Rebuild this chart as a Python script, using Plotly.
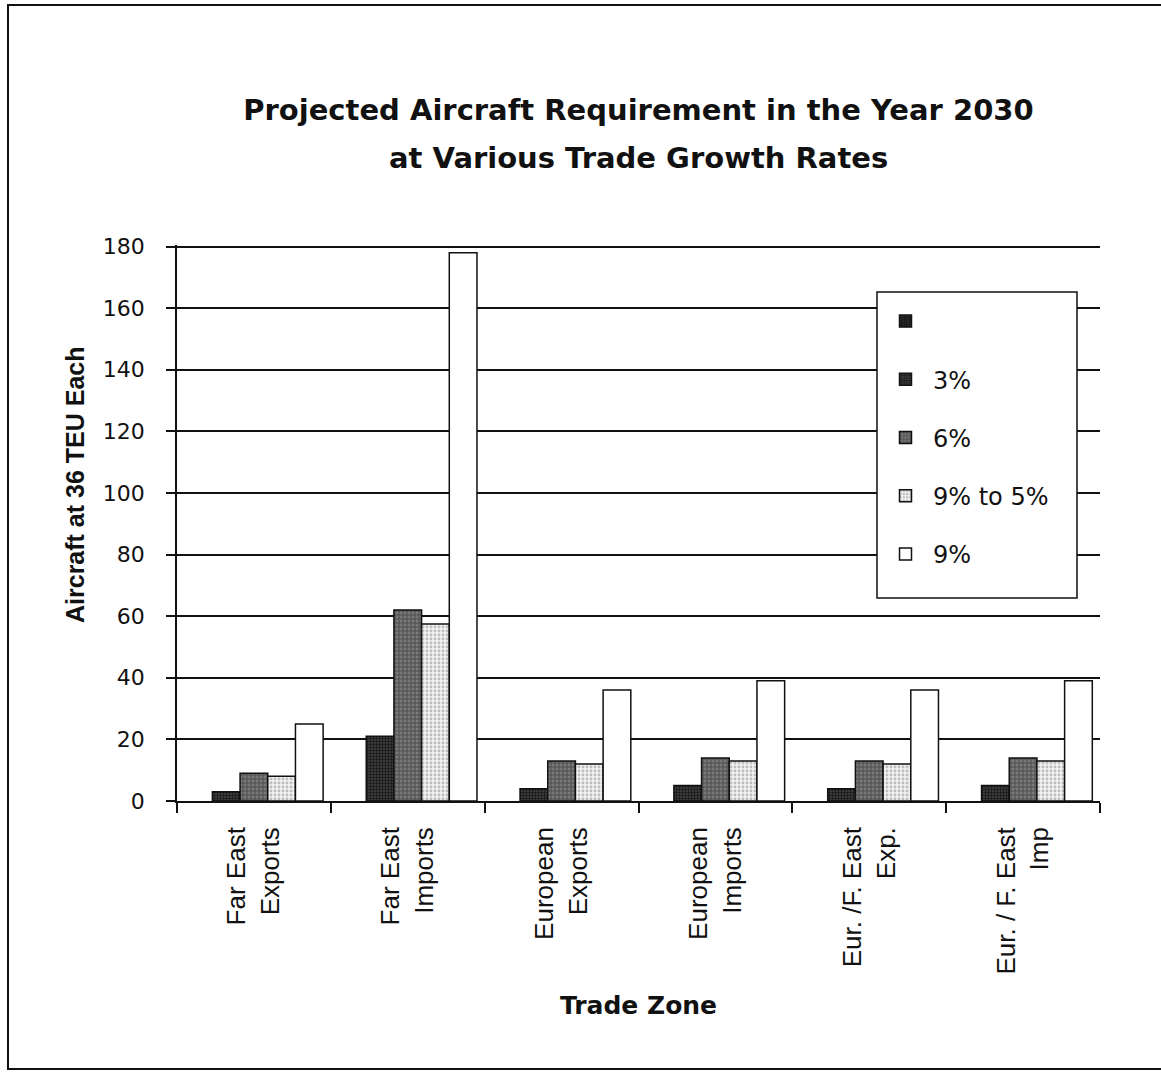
import plotly.graph_objects as go

categories = ["Far East<br>Exports", "Far East<br>Imports", "European<br>Exports",
              "European<br>Imports", "Eur. /F. East<br>Exp.", "Eur. / F. East<br>Imp"]
series_names = [" ", "3%", "6%", "9% to 5%", "9%"]
blank_vals = [None, None, None, None, None, None]
g3_vals = [3, 21, 4, 5, 4, 5]
g6_vals = [9, 62, 13, 14, 13, 14]
g95_vals = [8, 57.5, 12, 13, 12, 13]
g9_vals = [25, 178, 36, 39, 36, 39]
y_ticks = [0, 20, 40, 60, 80, 100, 120, 140, 160, 180]
title_line1 = "Projected Aircraft Requirement in the Year 2030"
title_line2 = "at Various Trade Growth Rates"
y_title = "Aircraft at 36 TEU Each"
x_title = "Trade Zone"

L, R, T, B = 177, 61, 245, 271
W, H = 1161, 1072
pw, ph = W - L - R, H - T - B

def px_x(x):
    return (x - L) / pw

def px_y(y):
    return (H - B - y) / ph

styles = [
    dict(color="#1a1a1a", pattern=dict(shape="+", fgcolor="#000", bgcolor="#2a2a2a", size=3, solidity=0.5)),
    dict(color="#1a1a1a", pattern=dict(shape="+", fgcolor="#000", bgcolor="#3a3a3a", size=3, solidity=0.5)),
    dict(color="#666", pattern=dict(shape="+", fgcolor="#222", bgcolor="#7a7a7a", size=4, solidity=0.45)),
    dict(color="#eee", pattern=dict(shape=".", fgcolor="#888", bgcolor="#f2f2f2", size=4, solidity=0.4)),
    dict(color="#ffffff"),
]
values = [blank_vals, g3_vals, g6_vals, g95_vals, g9_vals]

fig = go.Figure()
for i, (name, vals, st) in enumerate(zip(series_names, values, styles)):
    marker = dict(color=st["color"], line=dict(color="#111", width=1.5))
    if "pattern" in st:
        marker["pattern"] = st["pattern"]
    fig.add_trace(go.Bar(x=categories, y=vals, name=name, marker=marker,
                         legendgroup=str(i)))

fig.update_layout(
    width=W, height=H,
    margin=dict(l=L, r=R, t=T, b=B),
    paper_bgcolor="white", plot_bgcolor="white",
    barmode="group", bargap=0.1, bargroupgap=0,
    font=dict(family="Liberation Sans, Arial, sans-serif", color="#111", size=20),
    title=dict(text="<b>" + title_line1 + "</b>", xref="paper",
               x=0.5, xanchor="center", y=(H - 110) / H, yanchor="middle",
               font=dict(family="DejaVu Sans, sans-serif", size=29, color="#111")),
    legend=dict(x=px_x(878), y=px_y(299), xanchor="left", yanchor="top",
                borderwidth=0, bgcolor="rgba(0,0,0,0)",
                font=dict(family="DejaVu Sans, sans-serif", size=24, color="#111"),
                tracegroupgap=24, itemwidth=45),
    showlegend=True,
)
fig.add_annotation(text="<b>" + title_line2 + "</b>", xref="paper", yref="paper",
                   x=0.5, y=px_y(158), xanchor="center", yanchor="middle", showarrow=False,
                   font=dict(family="DejaVu Sans, sans-serif", size=29, color="#111"))
fig.add_annotation(text="<b>" + y_title + "</b>", xref="paper", yref="paper",
                   x=px_x(75), y=px_y(485), xanchor="center", yanchor="middle", showarrow=False,
                   textangle=-90,
                   font=dict(family="Liberation Sans, Arial, sans-serif", size=25, color="#111"))
fig.update_yaxes(range=[0, 180.5], tickvals=y_ticks, showgrid=True, gridcolor="#111", gridwidth=1.5,
                 showline=True, linecolor="#111", linewidth=1.5, ticks="outside", ticklen=9,
                 tickcolor="#111", tickwidth=1.5, zeroline=False, ticklabelstandoff=17,
                 tickfont=dict(family="DejaVu Sans, sans-serif", size=22))
fig.update_xaxes(tickson="boundaries", ticks="outside", ticklen=10, tickcolor="#111", tickwidth=1.5,
                 showline=True, linecolor="#111", linewidth=1.5, tickangle=-90, ticklabelstandoff=14,
                 tickfont=dict(family="Liberation Sans, Arial, sans-serif", size=26),
                 title=dict(text="<b>" + x_title + "</b>", standoff=23,
                            font=dict(family="DejaVu Sans, sans-serif", size=25)))

# outer frame
fig.add_shape(type="rect", xref="paper", yref="paper",
              x0=px_x(8), x1=px_x(1175), y0=px_y(1069), y1=px_y(5),
              line=dict(color="#111", width=2), fillcolor="rgba(0,0,0,0)", layer="below")
# legend box
fig.add_shape(type="rect", xref="paper", yref="paper",
              x0=px_x(877), x1=px_x(1077), y0=px_y(598), y1=px_y(292),
              line=dict(color="#111", width=1.5), fillcolor="white", layer="above")

fig.write_html("out.html")
